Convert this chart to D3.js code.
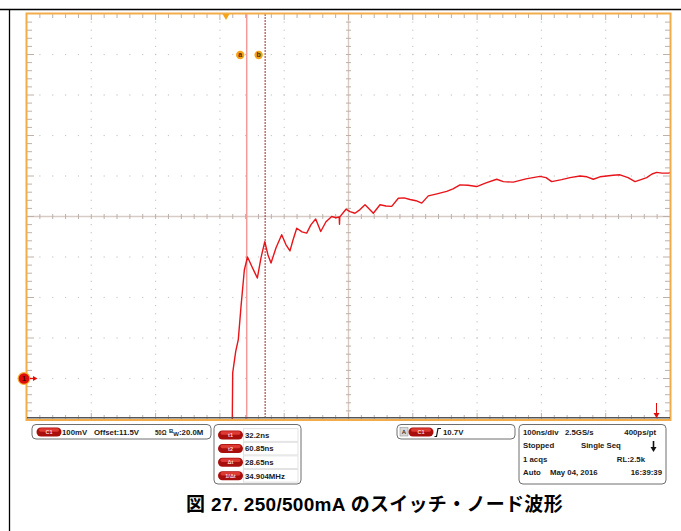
<!DOCTYPE html>
<html>
<head>
<meta charset="utf-8">
<script src="https://cdn.jsdelivr.net/npm/d3@7"></script>
<style>
  html, body { margin: 0; padding: 0; background: #fff; }
  svg { display: block; }
</style>
</head>
<body>
<svg id="scope"></svg>
<script>
// スイッチ・ノード波形（オシロスコープ画面）
const timeNs = [9.3, 9.8, 10.4, 15.1, 19.1, 23.3, 28.5, 33.4, 40.4, 48.7, 54.4, 60.3, 65.3, 70.0,
  77.8, 86.6, 93.3, 99.5, 104.2, 110.0, 118.2, 125.5, 132.2, 139.5, 147.3, 155.5, 164.4, 171.1,
  176.0, 176.5, 177.0, 186.6, 192.8, 200.6, 208.4, 216.2, 222.4, 229.1, 239.5, 248.8, 257.7, 268.0,
  276.8, 286.2, 295.5, 304.4, 314.6, 328.1, 343.2, 353.0, 363.9, 376.4, 389.9, 404.4, 421.0, 431.3,
  446.8, 466.6, 488.3, 497.7, 506.5, 522.1, 535.0, 550.5, 561.4, 571.2, 581.6, 592.1, 601.9, 612.8,
  625.2, 636.1, 645.4, 654.3, 662.5, 669.8, 678.1, 687.9, 690.5];
const volts = [10.97, 11.005, 11.114, 11.167, 11.196, 11.277, 11.368, 11.40, 11.376, 11.348, 11.398, 11.438, 11.405, 11.385,
  11.423, 11.455, 11.43, 11.415, 11.442, 11.471, 11.462, 11.459, 11.48, 11.494, 11.463, 11.487, 11.50, 11.497,
  11.499, 11.481, 11.499, 11.518, 11.512, 11.508, 11.517, 11.529, 11.519, 11.508, 11.529, 11.526, 11.525, 11.545,
  11.546, 11.542, 11.539, 11.533, 11.551, 11.556, 11.562, 11.568, 11.578, 11.577, 11.574, 11.583, 11.592, 11.586,
  11.585, 11.593, 11.599, 11.596, 11.586, 11.591, 11.596, 11.600, 11.598, 11.592, 11.598, 11.600, 11.602, 11.603,
  11.596, 11.586, 11.591, 11.596, 11.605, 11.609, 11.607, 11.607, 11.608];

const cursorTimes = [32.2, 60.85];      // a, b
const cursorNames = ['a', 'b'];
const readoutLabels = ['t1', 't2', 'Δt', '1/Δt'];
const readoutValues = ['32.2ns', '60.85ns', '28.65ns', '34.904MHz'];
const timeDomain = [-309.5, 690.5];      // 100ns/div, 10 div
const voltDomain = [11.0, 12.0];         // 100mV/div, offset 11.5V
const triggerTime = 0;
const markerVolt = 11.1;

const W = 681, H = 531;
const L = 27, R = 670, T = 14, B = 419;

const svg = d3.select('#scope').attr('width', W).attr('height', H)
  .style('font-family', 'Liberation Sans, Arial, sans-serif');

const x = d3.scaleLinear().domain(timeDomain).range([L, R]);
const y = d3.scaleLinear().domain(voltDomain).range([B, T]);

const defs = svg.append('defs');
defs.append('clipPath').attr('id', 'plotClip')
  .append('rect').attr('x', L).attr('y', T).attr('width', R - L).attr('height', B - T);

// 外枠（表の線）
svg.append('line').attr('x1', 0).attr('x2', W).attr('y1', 9.5).attr('y2', 9.5)
  .attr('stroke', '#000').attr('stroke-width', 1.3);
svg.append('line').attr('x1', 9.5).attr('x2', 9.5).attr('y1', 9.5).attr('y2', H)
  .attr('stroke', '#000').attr('stroke-width', 1.3);

// 目盛り
const tStep = 100, vStep = 0.1;
const majorT = d3.range(11).map(i => timeDomain[0] + i * tStep);
const minorT = d3.range(51).map(i => timeDomain[0] + i * tStep / 5);
const majorV = d3.range(11).map(i => voltDomain[0] + i * vStep);
const minorV = d3.range(51).map(i => voltDomain[0] + i * vStep / 5);
const centerT = timeDomain[0] + 5 * tStep;
const centerV = voltDomain[0] + 5 * vStep;

const grid = svg.append('g');
// 点線グリッド
majorT.slice(1, -1).forEach(t => {
  if (t === centerT) return;
  grid.selectAll(null).data(minorV.slice(1, -1)).join('rect')
    .attr('x', x(t) - 0.6).attr('y', d => y(d) - 0.6).attr('width', 1.2).attr('height', 1.2)
    .attr('fill', '#c9c9c9');
});
majorV.slice(1, -1).forEach(v => {
  if (Math.abs(v - centerV) < 1e-9) return;
  grid.selectAll(null).data(minorT.slice(1, -1)).join('rect')
    .attr('x', d => x(d) - 0.6).attr('y', y(v) - 0.6).attr('width', 1.2).attr('height', 1.2)
    .attr('fill', '#c9c9c9');
});

// 中心の十字線
const tickCol = '#bfb0aa';
grid.append('line').attr('x1', L).attr('x2', R).attr('y1', y(centerV)).attr('y2', y(centerV))
  .attr('stroke', '#d6cbc5').attr('stroke-width', 1.4);
grid.append('line').attr('x1', x(centerT)).attr('x2', x(centerT)).attr('y1', T).attr('y2', B)
  .attr('stroke', '#d6cbc5').attr('stroke-width', 1.4);
grid.selectAll(null).data(minorT.slice(1, -1)).join('line')
  .attr('x1', d => x(d)).attr('x2', d => x(d))
  .attr('y1', y(centerV) - 2.5).attr('y2', y(centerV) + 2.5)
  .attr('stroke', tickCol).attr('stroke-width', 1);
grid.selectAll(null).data(minorV.slice(1, -1)).join('line')
  .attr('y1', d => y(d)).attr('y2', d => y(d))
  .attr('x1', x(centerT) - 2.5).attr('x2', x(centerT) + 2.5)
  .attr('stroke', tickCol).attr('stroke-width', 1);

// 枠の目盛り
grid.selectAll(null).data(minorT.slice(1, -1)).join('line')
  .attr('x1', d => x(d)).attr('x2', d => x(d))
  .attr('y1', T).attr('y2', (d, i) => T + ((i + 1) % 5 === 0 ? 6 : 4))
  .attr('stroke', tickCol).attr('stroke-width', 1);
grid.selectAll(null).data(minorT.slice(1, -1)).join('line')
  .attr('x1', d => x(d)).attr('x2', d => x(d))
  .attr('y1', B).attr('y2', (d, i) => B - ((i + 1) % 5 === 0 ? 6 : 4))
  .attr('stroke', tickCol).attr('stroke-width', 1);
grid.selectAll(null).data(minorV.slice(1, -1)).join('line')
  .attr('y1', d => y(d)).attr('y2', d => y(d))
  .attr('x1', L).attr('x2', (d, i) => L + ((i + 1) % 5 === 0 ? 7 : 5))
  .attr('stroke', tickCol).attr('stroke-width', 1);
grid.selectAll(null).data(minorV.slice(1, -1)).join('line')
  .attr('y1', d => y(d)).attr('y2', d => y(d))
  .attr('x1', R).attr('x2', (d, i) => R - ((i + 1) % 5 === 0 ? 7 : 5))
  .attr('stroke', tickCol).attr('stroke-width', 1);

// カーソル
svg.append('line').attr('x1', x(cursorTimes[0])).attr('x2', x(cursorTimes[0]))
  .attr('y1', T).attr('y2', B).attr('stroke', '#f49a9a').attr('stroke-width', 1.5);
svg.append('line').attr('x1', x(cursorTimes[1])).attr('x2', x(cursorTimes[1]))
  .attr('y1', T).attr('y2', B).attr('stroke', '#9a2a2a').attr('stroke-width', 1)
  .attr('stroke-dasharray', '2,1');

// 波形
const line = d3.line().x((d, i) => x(timeNs[i])).y(d => y(d));
svg.append('g').attr('clip-path', 'url(#plotClip)')
  .append('path').datum(volts)
  .attr('d', line)
  .attr('fill', 'none').attr('stroke', '#e8141a').attr('stroke-width', 1.4)
  .attr('stroke-linejoin', 'round');

// カーソルラベル a, b
cursorTimes.forEach((t, i) => {
  const g = svg.append('g').attr('transform', `translate(${x(t) - 6.5},${55})`);
  g.append('circle').attr('r', 4.2).attr('fill', '#f5a318');
  g.append('text').attr('text-anchor', 'middle').attr('dy', '0.34em')
    .attr('font-size', 7).attr('font-weight', 'bold').attr('fill', '#4a2a00')
    .text(cursorNames[i]);
});

// 枠
svg.append('rect').attr('x', L - 0.5).attr('y', T - 0.5).attr('width', R - L + 1).attr('height', B - T + 1.5)
  .attr('fill', 'none').attr('stroke', '#f3ac4a').attr('stroke-width', 2);
svg.append('line').attr('x1', L).attr('x2', R).attr('y1', B - 1.3).attr('y2', B - 1.3)
  .attr('stroke', '#555').attr('stroke-width', 1.6);

// トリガ位置
const tx = x(triggerTime);
svg.append('path').attr('d', `M${tx - 3.5},${T}L${tx + 3.5},${T}L${tx},${T + 6}Z`).attr('fill', '#f5a318');

// チャンネル・マーカー
const my = y(markerVolt);
svg.append('circle').attr('cx', 24).attr('cy', my).attr('r', 6.5).attr('fill', '#f7b030');
svg.append('circle').attr('cx', 24).attr('cy', my).attr('r', 5.3).attr('fill', '#e00c0c');
svg.append('text').attr('x', 24).attr('y', my).attr('dy', '0.35em').attr('text-anchor', 'middle')
  .attr('font-size', 7).attr('font-weight', 'bold').attr('fill', '#400').text('1');
svg.append('line').attr('x1', 30).attr('x2', 34).attr('y1', my).attr('y2', my)
  .attr('stroke', '#e00c0c').attr('stroke-width', 1.3);
svg.append('path').attr('d', `M33,${my - 2.5}L37.5,${my}L33,${my + 2.5}Z`).attr('fill', '#e00c0c');

// 右下の矢印
svg.append('line').attr('x1', 656.5).attr('x2', 656.5).attr('y1', 403).attr('y2', 415)
  .attr('stroke', '#e00c0c').attr('stroke-width', 1);
svg.append('path').attr('d', 'M653.5,413L659.5,413L656.5,418Z').attr('fill', '#e00c0c');

// 下部パネル
const FS = 7.8;
const pill = (cx, cy, label) => {
  svg.append('rect').attr('x', cx - 12.5).attr('y', cy - 4.5).attr('width', 25).attr('height', 9)
    .attr('rx', 4.5).attr('fill', '#a80e0c');
  svg.append('rect').attr('x', cx - 10).attr('y', cy - 3.8).attr('width', 20).attr('height', 3.5)
    .attr('rx', 1.7).attr('fill', '#de3a34');
  svg.append('text').attr('x', cx).attr('y', cy).attr('dy', '0.35em').attr('text-anchor', 'middle')
    .attr('font-size', 5.5).attr('font-weight', 'bold').attr('fill', '#ffd0d0').text(label);
};
const panel = (x0, y0, w, h) => svg.append('rect').attr('x', x0).attr('y', y0).attr('width', w).attr('height', h)
  .attr('rx', 4).attr('fill', '#fff').attr('stroke', '#6e6e6e').attr('stroke-width', 1);
const txt = (s, x0, y0, anchor) => svg.append('text').attr('x', x0).attr('y', y0)
  .attr('text-anchor', anchor || 'start').attr('font-size', FS).attr('font-weight', 'bold')
  .attr('fill', '#1a1a1a').text(s);

panel(32, 424.5, 179, 14.5);
pill(49, 432, 'C1');
txt('100mV', 62, 434.8);
txt('Offset:11.5V', 94, 434.8);
txt('50Ω', 155, 434.8).attr('textLength', 11.5).attr('lengthAdjust', 'spacingAndGlyphs');
const bw = svg.append('text').attr('x', 169).attr('y', 434.8).attr('font-size', FS).attr('font-weight', 'bold').attr('fill', '#1a1a1a');
bw.append('tspan').attr('font-size', 6).attr('dy', -2).text('B');
bw.append('tspan').attr('font-size', 6).attr('dy', 3.5).text('W');
bw.append('tspan').attr('dy', -1.5).text(':20.0M');

panel(214, 424.5, 87, 59.5);
readoutLabels.forEach((lab, i) => {
  const cy = 435 + i * 13.6;
  svg.append('rect').attr('x', 243.5).attr('y', cy - 6.3).attr('width', 54.5).attr('height', 12.6)
    .attr('fill', '#fff').attr('stroke', '#dcdcdc').attr('stroke-width', 0.8);
  pill(230.5, cy, lab);
  txt(readoutValues[i], 245, cy + 2.8);
});

panel(397, 424.5, 118, 14.5);
svg.append('rect').attr('x', 400).attr('y', 427.5).attr('width', 8).attr('height', 8.5)
  .attr('fill', '#d8d8d8').attr('stroke', '#999').attr('stroke-width', 0.6);
svg.append('text').attr('x', 404).attr('y', 434.3).attr('text-anchor', 'middle')
  .attr('font-size', 6).attr('font-weight', 'bold').attr('fill', '#333').text('A');
pill(421, 432, 'C1');
svg.append('path').attr('d', 'M434.5,436.5L436.5,436.5L438,428.5L441,428.5')
  .attr('fill', 'none').attr('stroke', '#111').attr('stroke-width', 1.2);
txt('10.7V', 443, 434.8);

panel(519, 424.5, 147, 59.5);
txt('100ns/div', 523, 434.8);
txt('2.5GS/s', 565, 434.8);
txt('400ps/pt', 656, 434.8, 'end');
txt('Stopped', 523, 448.3);
txt('Single Seq', 581, 448.3);
svg.append('line').attr('x1', 653.5).attr('x2', 653.5).attr('y1', 441).attr('y2', 448)
  .attr('stroke', '#111').attr('stroke-width', 1.6);
svg.append('path').attr('d', 'M650.5,447L656.5,447L653.5,452Z').attr('fill', '#111');
txt('1 acqs', 523, 461.8);
txt('RL:2.5k', 645, 461.8, 'end');
txt('Auto', 523, 475.3);
txt('May 04, 2016', 550, 475.3);
txt('16:39:39', 662, 475.3, 'end');

// 図のタイトル
svg.append('text').attr('x', 374.5).attr('y', 511).attr('text-anchor', 'middle')
  .attr('font-family', 'Liberation Sans, Noto Sans CJK JP, sans-serif')
  .attr('font-size', 19).attr('font-weight', 'bold').attr('fill', '#000')
  .attr('letter-spacing', 0.3)
  .text('図 27. 250/500mA のスイッチ・ノード波形');
</script>
</body>
</html>
